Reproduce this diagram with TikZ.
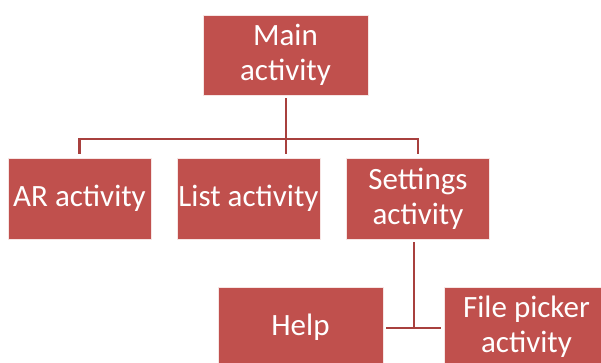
\documentclass[tikz,border=0pt]{standalone}
\usepackage{fontspec}
\setmainfont{Carlito}
\definecolor{boxred}{RGB}{192,80,77}
\definecolor{linkred}{RGB}{168,64,62}
\begin{document}
\begin{tikzpicture}[x=1pt,y=-1pt,
  actbox/.style={rectangle, fill=boxred, draw=white!85!boxred, line width=0.8pt,
    text=white, align=center, inner sep=0pt,
    minimum width=165pt, minimum height=80pt,
    font=\fontsize{31}{35}\selectfont},
  midbox/.style={actbox, minimum width=143pt, minimum height=81pt},
  conn/.style={draw=linkred, line width=2.4pt}]
\useasboundingbox (0,0) rectangle (601,362);
\clip (0,0) rectangle (601,362);

% boxes
\node[actbox] (main) at (285.5,55) {Main\\activity};
\node[midbox] (ar) at (79.5,198.5) {AR activity};
\node[midbox] (list) at (248.5,198.5) {List activity};
\node[midbox] (settings) at (418,198.5) {Settings\\activity};
\node[actbox] (help) at (300.5,327) {Help};
\node[actbox] (file) at (526.5,327) {File picker\\activity};

% junction points
\coordinate (hub) at (286,139);
\coordinate (sub) at (414,328);

% connectors
\draw[conn, shorten <=3pt, shorten >=4pt] (main.south -| hub) -- (hub |- list.north);
\draw[conn, shorten <=4pt, shorten >=4pt] (ar.north) |- (hub) -| (settings.north);
\draw[conn, shorten <=3pt] (settings.south -| sub) -- (sub);
\draw[conn, shorten <=3pt, shorten >=3pt] (help.east |- sub) -- (file.west |- sub);
\end{tikzpicture}
\end{document}
